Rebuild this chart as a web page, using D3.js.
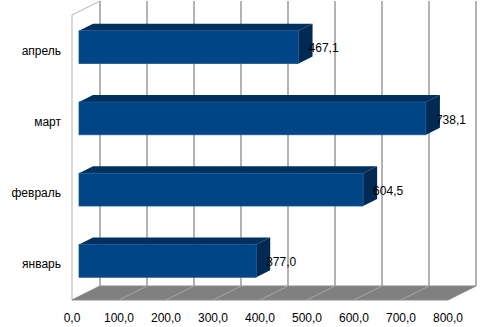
<!DOCTYPE html>
<html>
<head>
<meta charset="utf-8">
<script src="https://cdn.jsdelivr.net/npm/d3@7"></script>
<style>
  body { margin: 0; background: #fff; }
  text { font-family: "Liberation Sans", Arial, sans-serif; font-size: 12px; fill: #000; }
</style>
</head>
<body>
<div id="chart"></div>
<script>
// data
var months = ["январь", "февраль", "март", "апрель"];
var values = [377.0, 604.5, 738.1, 467.1];
var ticks = [0, 100, 200, 300, 400, 500, 600, 700, 800];

var width = 483, height = 327;

// front plane of the 3d box
var x = d3.scaleLinear().domain([0, 800]).range([72, 448]);
var y = d3.scaleBand().domain(months).range([300, 15])
    .paddingInner(0.54).paddingOuter(0.27);

// depth vector (front -> back wall)
var dx = 28, dy = -14;
var fmt = function(v) { return d3.format(".1f")(v).replace(".", ","); };

var svg = d3.select("#chart").append("svg")
    .attr("width", width)
    .attr("height", height);

var top0 = 15, bot0 = 300;

// left wall
svg.append("polygon")
    .attr("points", [[x(0), top0], [x(0) + dx, top0 + dy], [x(0) + dx, bot0 + dy], [x(0), bot0]].join(" "))
    .attr("fill", "#fff")
    .attr("stroke", "#b3b3b3")
    .attr("stroke-width", 1);

// grid lines on back wall
svg.append("g").selectAll("line")
    .data(ticks)
    .join("line")
    .attr("x1", d => x(d) + dx)
    .attr("x2", d => x(d) + dx)
    .attr("y1", top0 + dy)
    .attr("y2", bot0 + dy)
    .attr("stroke", "#b3b3b3")
    .attr("stroke-width", 2);

// floor
svg.append("polygon")
    .attr("points", [[x(0), bot0], [x(0) + dx, bot0 + dy], [x(800) + dx, bot0 + dy], [x(800), bot0]].join(" "))
    .attr("fill", "#808080")
    .attr("stroke", "#8c8c8c")
    .attr("stroke-width", 1);

svg.append("g").selectAll("line")
    .data(ticks.slice(1, -1))
    .join("line")
    .attr("x1", d => x(d))
    .attr("y1", bot0)
    .attr("x2", d => x(d) + dx)
    .attr("y2", bot0 + dy)
    .attr("stroke", "#a8a8a8")
    .attr("stroke-width", 1);

// bars: front face at 1/4 depth, back at 3/4
var fx = dx / 4, fy = dy / 4, bx = dx / 2, by = dy / 2;
var bars = svg.append("g").selectAll("g")
    .data(months.map((m, i) => ({ m: m, v: values[i] })))
    .join("g");

bars.append("polygon") // top face
    .attr("points", d => {
        var x0 = x(0) + fx, x1 = x(d.v) + fx, yt = y(d.m) + fy;
        return [[x0, yt], [x0 + bx, yt + by], [x1 + bx, yt + by], [x1, yt]].join(" ");
    })
    .attr("fill", "#00305d");

bars.append("polygon") // right face
    .attr("points", d => {
        var x1 = x(d.v) + fx, yt = y(d.m) + fy, yb = yt + y.bandwidth();
        return [[x1, yt], [x1 + bx, yt + by], [x1 + bx, yb + by], [x1, yb]].join(" ");
    })
    .attr("fill", "#002a52");

bars.append("rect") // front face
    .attr("x", x(0) + fx)
    .attr("y", d => y(d.m) + fy)
    .attr("width", d => x(d.v) - x(0))
    .attr("height", y.bandwidth())
    .attr("fill", "#004586")
    .attr("stroke", "#1a5590")
    .attr("stroke-width", 0.8);

// value labels
bars.append("text")
    .attr("x", d => x(d.v) + 17)
    .attr("y", d => y(d.m) + y.bandwidth() / 2 + 1.8)
    .text(d => fmt(d.v));

// category labels
svg.append("g").selectAll("text")
    .data(months)
    .join("text")
    .attr("x", 61)
    .attr("y", d => y(d) + y.bandwidth() / 2 + 4)
    .attr("text-anchor", "end")
    .text(d => d);

// x tick labels
svg.append("g").selectAll("text")
    .data(ticks)
    .join("text")
    .attr("x", d => x(d))
    .attr("y", 322)
    .attr("text-anchor", "middle")
    .text(d => fmt(d));
</script>
</body>
</html>
